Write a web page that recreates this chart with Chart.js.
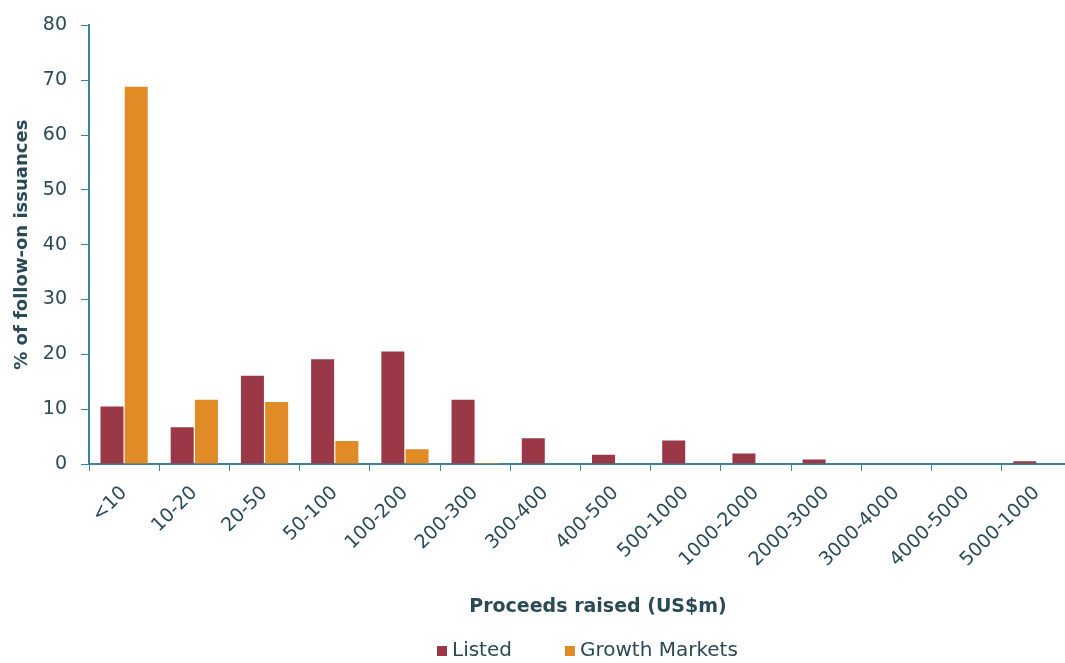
<!DOCTYPE html>
<html>
<head>
<meta charset="utf-8">
<script src="https://cdn.jsdelivr.net/npm/chart.js@4"></script>
<style>
  html, body { margin: 0; padding: 0; background: #fff; overflow: hidden; }
  #wrap { position: absolute; left: 0; top: 0; width: 1065px; height: 663px; overflow: hidden; }
  canvas { display: block; }
</style>
</head>
<body>
<div id="wrap"><canvas id="c" width="1196" height="663"></canvas></div>
<script>
const categories = ['<10','10-20','20-50','50-100','100-200','200-300','300-400','400-500','500-1000','1000-2000','2000-3000','3000-4000','4000-5000','5000-1000'];
const listedValues = [10.5, 6.7, 16.1, 19.1, 20.5, 11.7, 4.7, 1.7, 4.3, 1.9, 0.8, 0, 0, 0.5];
const growthValues = [68.8, 11.7, 11.3, 4.2, 2.7, 0.2, 0, 0, 0, 0, 0, 0, 0, 0];
const yTicks = [0, 10, 20, 30, 40, 50, 60, 70, 80];
const seriesNames = ['Listed', 'Growth Markets'];
const xTitle = 'Proceeds raised (US$m)';
const yTitle = '% of follow-on issuances';

const TEXT = '#2a4a56';
const AXIS = '#3a8399';
const FONT = "'DejaVu Sans', Verdana, sans-serif";

const customLegend = {
  id: 'customLegend',
  afterDraw(chart) {
    const ctx = chart.ctx;
    ctx.save();
    ctx.font = '20px ' + FONT;
    ctx.textBaseline = 'middle';
    ctx.textAlign = 'left';
    let x = 437;
    const cy = 651;
    chart.data.datasets.forEach((ds) => {
      ctx.fillStyle = ds.backgroundColor;
      ctx.fillRect(x, cy - 5, 10, 10);
      ctx.fillStyle = TEXT;
      ctx.fillText(ds.label, x + 15, cy);
      x += 15 + ctx.measureText(ds.label).width + 53;
    });
    ctx.restore();
  }
};

new Chart(document.getElementById('c'), {
  type: 'bar',
  data: {
    labels: categories,
    datasets: [
      { label: seriesNames[0], data: listedValues, backgroundColor: '#9b3848', categoryPercentage: 0.69, barPercentage: 0.95 },
      { label: seriesNames[1], data: growthValues, backgroundColor: '#e08b25', categoryPercentage: 0.69, barPercentage: 0.95 }
    ]
  },
  options: {
    responsive: false,
    animation: false,
    devicePixelRatio: 1,
    layout: { padding: { left: 0, right: 0, top: 22, bottom: 44.6 } },
    plugins: {
      legend: { display: false },
      tooltip: { enabled: false },
      title: {
        display: true,
        position: 'bottom',
        text: xTitle,
        weight: 500,
        fullSize: true,
        color: TEXT,
        font: { family: FONT, size: 19, weight: 'bold', lineHeight: 1.2 },
        padding: { top: 0, bottom: 0 }
      }
    },
    scales: {
      x: {
        type: 'category',
        grid: { display: true, drawOnChartArea: false, drawTicks: true, tickLength: 7, color: AXIS, offset: true },
        border: { display: true, color: AXIS, width: 2 },
        ticks: { color: TEXT, font: { family: FONT, size: 19 }, minRotation: 45, maxRotation: 45, autoSkip: false, padding: 11 },
        afterFit(s) { s.height = 131.6; }
      },
      y: {
        min: 0, max: 80,
        afterBuildTicks(s) { s.ticks = yTicks.map(v => ({ value: v })); },
        grid: { display: true, drawOnChartArea: false, drawTicks: true, tickLength: 8, color: AXIS },
        border: { display: true, color: AXIS, width: 2 },
        ticks: { color: TEXT, font: { family: FONT, size: 19 }, padding: 14 },
        title: { display: true, text: yTitle, color: TEXT, font: { family: FONT, size: 18, weight: 'bold' }, padding: { top: 12, bottom: 0 } },
        afterFit(s) { s.width = 89; }
      },
      yRight: {
        position: 'right',
        display: true,
        grid: { display: false },
        border: { display: false },
        ticks: { display: false },
        afterFit(s) { s.width = 124; }
      }
    }
  },
  plugins: [customLegend]
});
</script>
</body>
</html>
